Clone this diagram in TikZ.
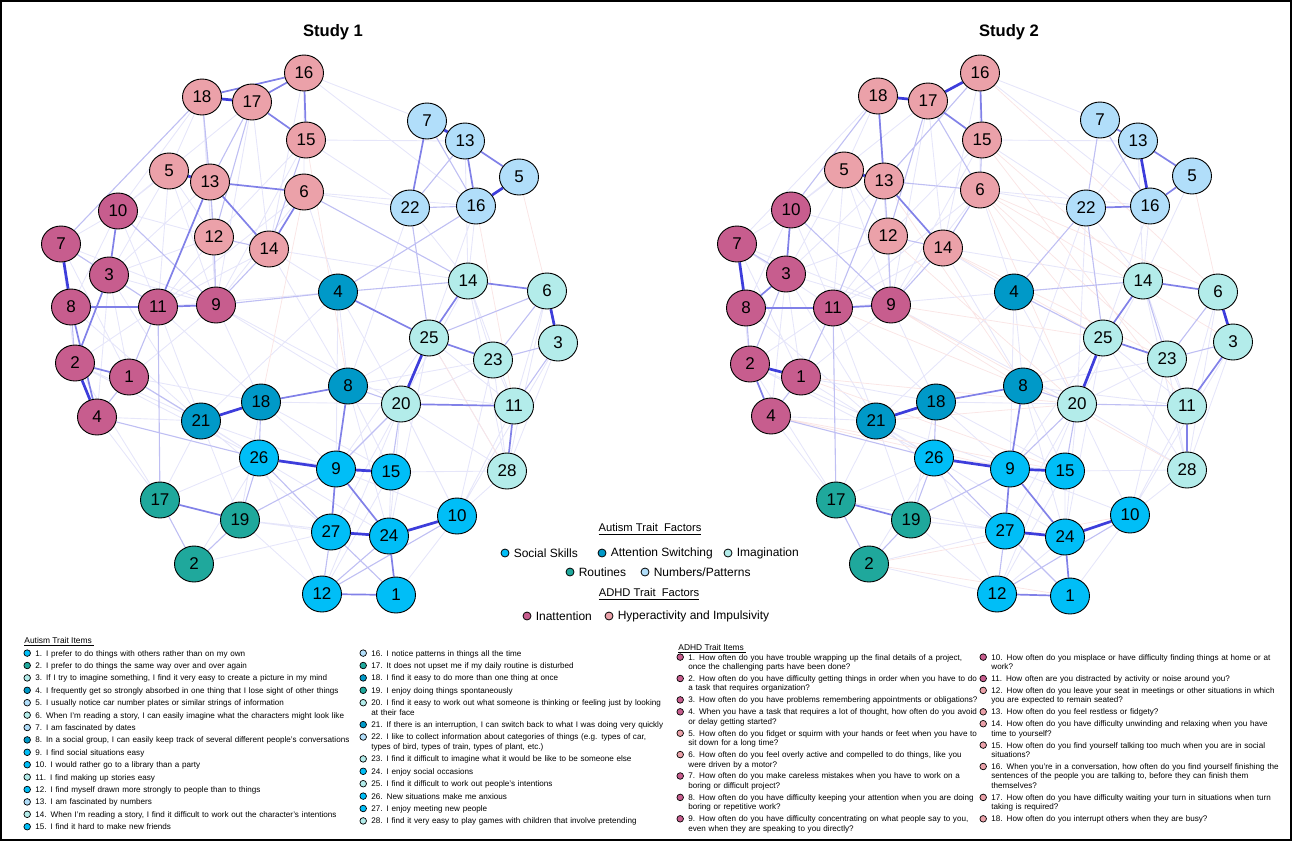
\documentclass[tikz,border=0pt]{standalone}
\usepackage{fontspec}
\setmainfont{Liberation Sans}
\usepackage{tikz}
\usetikzlibrary{shapes.geometric,positioning}
\pgfdeclarelayer{background}
\pgfsetlayers{background,main}
% factor colours
\definecolor{inattcol}{HTML}{C75D8E}
\definecolor{hypercol}{HTML}{EBA1A9}
\definecolor{socialcol}{HTML}{00BEF7}
\definecolor{attswcol}{HTML}{0099C8}
\definecolor{imagcol}{HTML}{B3ECEA}
\definecolor{routinecol}{HTML}{1FA89C}
\definecolor{numpatcol}{HTML}{B1DEFA}
\definecolor{poscol}{HTML}{3D3DDB}
\definecolor{negcol}{HTML}{E05A5A}
\newcommand{\itemsfont}{\fontsize{4.05}{4.75}\selectfont}
\newcommand{\keysfont}{\fontsize{6}{7}\selectfont}

\begin{document}
\begin{tikzpicture}[x=0.5pt, y=-0.5pt,
  trait/.style={ellipse, draw, line width=0.45pt, inner sep=0pt, minimum width=19.5pt, minimum height=18pt, font=\fontsize{8.5}{9}\selectfont},
  inatt/.style={trait, fill=inattcol},
  hyper/.style={trait, fill=hypercol},
  social/.style={trait, fill=socialcol},
  attsw/.style={trait, fill=attswcol},
  imag/.style={trait, fill=imagcol},
  routine/.style={trait, fill=routinecol},
  numpat/.style={trait, fill=numpatcol},
  edgestrong/.style={draw=poscol, line width=1.35pt},
  edgemid/.style={draw=poscol!65, line width=0.85pt},
  edgeweak/.style={draw=poscol!33, line width=0.55pt},
  edgefaint/.style={draw=poscol!13, line width=0.45pt},
  edgeneg/.style={draw=negcol!15, line width=0.4pt},
  keydot/.style={circle, draw, line width=0.4pt, inner sep=0pt, minimum size=4pt},
  keytext/.style={anchor=west, inner sep=0pt, font=\keysfont},
  bulletdot/.style={circle, draw, line width=0.35pt, inner sep=0pt, minimum size=3.3pt},
  traititem/.style={anchor=base west, inner sep=0pt, text width=165pt, align=left, font=\itemsfont,
    label={[bulletdot, fill=#1, anchor=center, xshift=-3.9pt, yshift=1.45pt]base west:}},
]
\useasboundingbox (0,0) rectangle (1292,841);
\draw[line width=0.6pt] (1,1) rectangle (1291,840);

% Titles
\node[font=\bfseries\fontsize{8.3}{9}\selectfont] (title1) at (333,32) {Study 1};
\node[font=\bfseries\fontsize{8.3}{9}\selectfont] (title2) at (1009,32) {Study 2};

% Study 1: hyperactivity and impulsivity
\node[hyper] (s1_d18) at (202,97) {18};
\node[hyper] (s1_d17) at (252,102) {17};
\node[hyper] (s1_d16) at (304,73) {16};
\node[hyper] (s1_d15) at (306,140) {15};
\node[hyper] (s1_d5) at (169,171) {5};
\node[hyper] (s1_d13) at (210,182) {13};
\node[hyper] (s1_d6) at (304,192) {6};
\node[hyper] (s1_d12) at (214,237) {12};
\node[hyper] (s1_d14) at (269,249) {14};
% Study 1: inattention
\node[inatt] (s1_d10) at (118,211) {10};
\node[inatt] (s1_d7) at (61,244) {7};
\node[inatt] (s1_d3) at (109,275) {3};
\node[inatt] (s1_d8) at (71,307) {8};
\node[inatt] (s1_d11) at (158,307) {11};
\node[inatt] (s1_d9) at (216,305) {9};
\node[inatt] (s1_d2) at (75,363) {2};
\node[inatt] (s1_d1) at (129,377) {1};
\node[inatt] (s1_d4) at (97,417) {4};
% Study 1: attention switching
\node[attsw] (s1_a4) at (338,292) {4};
\node[attsw] (s1_a8) at (348,386) {8};
\node[attsw] (s1_a18) at (261,402) {18};
\node[attsw] (s1_a21) at (201,421) {21};
% Study 1: numbers/patterns
\node[numpat] (s1_a7) at (427,121) {7};
\node[numpat] (s1_a13) at (465,141) {13};
\node[numpat] (s1_a5) at (519,177) {5};
\node[numpat] (s1_a22) at (410,208) {22};
\node[numpat] (s1_a16) at (476,206) {16};
% Study 1: imagination
\node[imag] (s1_a14) at (468,281) {14};
\node[imag] (s1_a6) at (547,291) {6};
\node[imag] (s1_a3) at (558,343) {3};
\node[imag] (s1_a25) at (429,338) {25};
\node[imag] (s1_a23) at (493,360) {23};
\node[imag] (s1_a20) at (401,404) {20};
\node[imag] (s1_a11) at (514,406) {11};
\node[imag] (s1_a28) at (507,471) {28};
% Study 1: social skills
\node[social] (s1_a26) at (259,458) {26};
\node[social] (s1_a9) at (336,469) {9};
\node[social] (s1_a15) at (391,472) {15};
\node[social] (s1_a10) at (457,516) {10};
\node[social] (s1_a27) at (331,532) {27};
\node[social] (s1_a24) at (389,536) {24};
\node[social] (s1_a12) at (322,594) {12};
\node[social] (s1_a1) at (396,595) {1};
% Study 1: routines
\node[routine] (s1_a17) at (160,500) {17};
\node[routine] (s1_a19) at (240,520) {19};
\node[routine] (s1_a2) at (194,564) {2};

% Study 2: hyperactivity and impulsivity
\node[hyper] (s2_d18) at (878,96) {18};
\node[hyper] (s2_d17) at (928,101) {17};
\node[hyper] (s2_d16) at (980,73) {16};
\node[hyper] (s2_d15) at (982,140) {15};
\node[hyper] (s2_d5) at (844,170) {5};
\node[hyper] (s2_d13) at (884,181) {13};
\node[hyper] (s2_d6) at (980,190) {6};
\node[hyper] (s2_d12) at (888,236) {12};
\node[hyper] (s2_d14) at (943,248) {14};
% Study 2: inattention
\node[inatt] (s2_d10) at (791,210) {10};
\node[inatt] (s2_d7) at (737,244) {7};
\node[inatt] (s2_d3) at (786,274) {3};
\node[inatt] (s2_d8) at (746,308) {8};
\node[inatt] (s2_d11) at (833,308) {11};
\node[inatt] (s2_d9) at (891,305) {9};
\node[inatt] (s2_d2) at (750,364) {2};
\node[inatt] (s2_d1) at (801,377) {1};
\node[inatt] (s2_d4) at (771,416) {4};
% Study 2: attention switching
\node[attsw] (s2_a4) at (1014,292) {4};
\node[attsw] (s2_a8) at (1023,386) {8};
\node[attsw] (s2_a18) at (936,402) {18};
\node[attsw] (s2_a21) at (876,421) {21};
% Study 2: numbers/patterns
\node[numpat] (s2_a7) at (1100,120) {7};
\node[numpat] (s2_a13) at (1138,141) {13};
\node[numpat] (s2_a5) at (1192,176) {5};
\node[numpat] (s2_a22) at (1086,208) {22};
\node[numpat] (s2_a16) at (1150,206) {16};
% Study 2: imagination
\node[imag] (s2_a14) at (1143,281) {14};
\node[imag] (s2_a6) at (1218,292) {6};
\node[imag] (s2_a3) at (1233,342) {3};
\node[imag] (s2_a25) at (1103,338) {25};
\node[imag] (s2_a23) at (1167,359) {23};
\node[imag] (s2_a20) at (1077,404) {20};
\node[imag] (s2_a11) at (1187,406) {11};
\node[imag] (s2_a28) at (1187,470) {28};
% Study 2: social skills
\node[social] (s2_a26) at (934,458) {26};
\node[social] (s2_a9) at (1010,469) {9};
\node[social] (s2_a15) at (1065,471) {15};
\node[social] (s2_a10) at (1130,515) {10};
\node[social] (s2_a27) at (1005,531) {27};
\node[social] (s2_a24) at (1065,537) {24};
\node[social] (s2_a12) at (997,594) {12};
\node[social] (s2_a1) at (1070,596) {1};
% Study 2: routines
\node[routine] (s2_a17) at (836,500) {17};
\node[routine] (s2_a19) at (911,520) {19};
\node[routine] (s2_a2) at (869,564) {2};

% Draw the edges behind the nodes
\begin{pgfonlayer}{background}
% Study 1
\draw[edgefaint] (s1_d18) -- (s1_d10) (s1_d16) -- (s1_d6) (s1_d5) -- (s1_d10) (s1_d5) -- (s1_d3)
  (s1_d6) -- (s1_d9) (s1_d10) -- (s1_d11) (s1_d7) -- (s1_d11) (s1_d7) -- (s1_d9) (s1_d3) -- (s1_d9)
  (s1_d3) -- (s1_d1) (s1_d11) -- (s1_d2) (s1_d9) -- (s1_d1) (s1_d6) -- (s1_a22) (s1_d6) -- (s1_a4)
  (s1_a4) -- (s1_a21) (s1_a4) -- (s1_d11) (s1_d14) -- (s1_a4) (s1_a18) -- (s1_a20) (s1_a8) -- (s1_a25)
  (s1_a8) -- (s1_a23) (s1_a20) -- (s1_a23) (s1_a25) -- (s1_a11) (s1_a14) -- (s1_a23) (s1_a26) -- (s1_a15)
  (s1_a15) -- (s1_a24) (s1_a15) -- (s1_a28) (s1_a9) -- (s1_a10) (s1_a19) -- (s1_a27) (s1_a1) -- (s1_a10)
  (s1_a21) -- (s1_a26) (s1_a21) -- (s1_a19) (s1_a17) -- (s1_a26) (s1_d2) -- (s1_a17) (s1_a20) -- (s1_a10)
  (s1_a28) -- (s1_a10) (s1_a25) -- (s1_a9) (s1_a14) -- (s1_a28) (s1_d5) -- (s1_d12) (s1_d12) -- (s1_d11)
  (s1_d15) -- (s1_a22) (s1_d16) -- (s1_a16) (s1_a16) -- (s1_a14) (s1_d14) -- (s1_a8) (s1_d9) -- (s1_a18)
  (s1_d1) -- (s1_a18) (s1_d4) -- (s1_a21) (s1_a3) -- (s1_a28) (s1_a6) -- (s1_a11) (s1_a14) -- (s1_a20)
  (s1_a23) -- (s1_a28) (s1_a20) -- (s1_a27) (s1_d10) -- (s1_d7) (s1_a12) -- (s1_a15) (s1_a19) -- (s1_a12)
  (s1_d2) -- (s1_a21) (s1_a23) -- (s1_a11) (s1_a4) -- (s1_a8) (s1_d18) -- (s1_d5) (s1_d17) -- (s1_d10)
  (s1_d18) -- (s1_d9) (s1_d18) -- (s1_d12) (s1_d16) -- (s1_d14) (s1_d15) -- (s1_d12) (s1_d15) -- (s1_d9)
  (s1_d17) -- (s1_d14) (s1_d17) -- (s1_d9) (s1_d5) -- (s1_d11) (s1_d5) -- (s1_d9) (s1_d13) -- (s1_d9)
  (s1_d13) -- (s1_d3) (s1_d10) -- (s1_d12) (s1_d10) -- (s1_d8) (s1_d7) -- (s1_d2) (s1_d7) -- (s1_d1)
  (s1_d3) -- (s1_d4) (s1_d12) -- (s1_d3) (s1_d14) -- (s1_d11) (s1_d6) -- (s1_d11) (s1_d6) -- (s1_a16)
  (s1_d16) -- (s1_a7) (s1_d15) -- (s1_a13) (s1_d14) -- (s1_a14) (s1_d9) -- (s1_a8) (s1_d9) -- (s1_a20)
  (s1_d11) -- (s1_a18) (s1_d11) -- (s1_a21) (s1_d3) -- (s1_a21) (s1_d8) -- (s1_a21) (s1_d2) -- (s1_a26)
  (s1_d1) -- (s1_a26) (s1_d4) -- (s1_a17) (s1_a21) -- (s1_a9) (s1_a21) -- (s1_a27) (s1_a18) -- (s1_a9)
  (s1_a18) -- (s1_a19) (s1_a18) -- (s1_a15) (s1_a8) -- (s1_a15) (s1_a8) -- (s1_a24) (s1_a8) -- (s1_a11)
  (s1_a20) -- (s1_a24) (s1_a20) -- (s1_a12) (s1_a20) -- (s1_a28) (s1_a25) -- (s1_a28) (s1_a25) -- (s1_a24)
  (s1_a23) -- (s1_a10) (s1_a11) -- (s1_a10) (s1_a3) -- (s1_a10) (s1_a6) -- (s1_a28) (s1_a14) -- (s1_a11)
  (s1_a22) -- (s1_a14) (s1_a22) -- (s1_a8) (s1_a16) -- (s1_a25) (s1_a13) -- (s1_a14) (s1_a4) -- (s1_a20)
  (s1_a4) -- (s1_a9) (s1_a26) -- (s1_a24) (s1_a26) -- (s1_a12) (s1_a19) -- (s1_a24) (s1_a17) -- (s1_a21)
  (s1_a2) -- (s1_a27) (s1_a2) -- (s1_a26);
\draw[edgeneg] (s1_a5) -- (s1_a6) (s1_a16) -- (s1_a11) (s1_d6) -- (s1_a18) (s1_d15) -- (s1_a8) (s1_a25) -- (s1_a28);
\draw[edgeweak] (s1_d17) -- (s1_d12) (s1_d15) -- (s1_d14) (s1_d12) -- (s1_d14) (s1_d10) -- (s1_d9)
  (s1_d14) -- (s1_d9) (s1_d7) -- (s1_d3) (s1_d8) -- (s1_d2) (s1_d1) -- (s1_d4) (s1_d4) -- (s1_a26)
  (s1_a8) -- (s1_a20) (s1_a27) -- (s1_a12) (s1_a26) -- (s1_a27) (s1_a20) -- (s1_a9) (s1_a22) -- (s1_a25)
  (s1_a7) -- (s1_a16) (s1_a13) -- (s1_a22) (s1_a3) -- (s1_a11) (s1_a19) -- (s1_a9) (s1_a18) -- (s1_a26)
  (s1_a17) -- (s1_a2) (s1_a19) -- (s1_a2) (s1_a26) -- (s1_a19) (s1_a4) -- (s1_a14) (s1_a4) -- (s1_a16)
  (s1_a22) -- (s1_a16) (s1_a10) -- (s1_a12) (s1_d18) -- (s1_d7) (s1_d11) -- (s1_a17) (s1_d12) -- (s1_d9)
  (s1_d13) -- (s1_d12) (s1_d1) -- (s1_a21) (s1_a15) -- (s1_a20) (s1_a24) -- (s1_a12) (s1_a23) -- (s1_a3)
  (s1_a6) -- (s1_a23) (s1_a6) -- (s1_a25) (s1_d6) -- (s1_a14) (s1_d17) -- (s1_d13) (s1_d18) -- (s1_d13)
  (s1_d9) -- (s1_a4) (s1_d11) -- (s1_d1) (s1_d3) -- (s1_d11) (s1_a27) -- (s1_a1);
\draw[edgemid] (s1_d17) -- (s1_d16) (s1_d16) -- (s1_d15) (s1_d17) -- (s1_d15) (s1_d18) -- (s1_d16)
  (s1_d13) -- (s1_d6) (s1_d13) -- (s1_d14) (s1_d6) -- (s1_d14) (s1_d10) -- (s1_d3) (s1_d8) -- (s1_d11)
  (s1_d11) -- (s1_d9) (s1_d2) -- (s1_d1) (s1_d3) -- (s1_d2) (s1_d8) -- (s1_d4) (s1_a18) -- (s1_a8)
  (s1_a8) -- (s1_a9) (s1_a9) -- (s1_a24) (s1_a24) -- (s1_a1) (s1_a12) -- (s1_a1) (s1_a17) -- (s1_a19)
  (s1_a9) -- (s1_a27) (s1_a13) -- (s1_a5) (s1_a13) -- (s1_a16) (s1_a7) -- (s1_a22) (s1_a14) -- (s1_a6)
  (s1_a14) -- (s1_a25) (s1_a25) -- (s1_a23) (s1_a20) -- (s1_a11) (s1_a11) -- (s1_a28) (s1_a4) -- (s1_a25)
  (s1_d13) -- (s1_d11);
\draw[edgestrong] (s1_d18) -- (s1_d17) (s1_d5) -- (s1_d13) (s1_d7) -- (s1_d8) (s1_d2) -- (s1_d4)
  (s1_a21) -- (s1_a18) (s1_a26) -- (s1_a9) (s1_a9) -- (s1_a15) (s1_a27) -- (s1_a24) (s1_a24) -- (s1_a10)
  (s1_a7) -- (s1_a13) (s1_a5) -- (s1_a16) (s1_a6) -- (s1_a3) (s1_a25) -- (s1_a20);
% Study 2
\draw[edgefaint] (s2_d16) -- (s2_d6) (s2_d5) -- (s2_d10) (s2_d5) -- (s2_d3) (s2_d6) -- (s2_d9)
  (s2_d10) -- (s2_d11) (s2_d7) -- (s2_d11) (s2_d7) -- (s2_d9) (s2_d3) -- (s2_d9) (s2_d3) -- (s2_d1)
  (s2_d11) -- (s2_d2) (s2_d9) -- (s2_d1) (s2_d6) -- (s2_a22) (s2_d6) -- (s2_a4) (s2_a4) -- (s2_a21)
  (s2_a4) -- (s2_d11) (s2_d14) -- (s2_a4) (s2_a18) -- (s2_a20) (s2_a8) -- (s2_a25) (s2_a8) -- (s2_a23)
  (s2_a20) -- (s2_a23) (s2_a25) -- (s2_a11) (s2_a26) -- (s2_a15) (s2_a15) -- (s2_a24) (s2_a15) -- (s2_a28)
  (s2_a9) -- (s2_a10) (s2_a19) -- (s2_a27) (s2_a1) -- (s2_a10) (s2_a21) -- (s2_a26) (s2_a21) -- (s2_a19)
  (s2_a17) -- (s2_a26) (s2_d2) -- (s2_a17) (s2_a20) -- (s2_a10) (s2_a28) -- (s2_a10) (s2_a25) -- (s2_a9)
  (s2_a14) -- (s2_a28) (s2_d5) -- (s2_d12) (s2_d12) -- (s2_d11) (s2_d15) -- (s2_a22) (s2_d16) -- (s2_a16)
  (s2_a16) -- (s2_a14) (s2_d14) -- (s2_a8) (s2_d9) -- (s2_a18) (s2_d1) -- (s2_a18) (s2_d4) -- (s2_a21)
  (s2_a3) -- (s2_a28) (s2_a6) -- (s2_a11) (s2_a14) -- (s2_a20) (s2_a23) -- (s2_a28) (s2_a20) -- (s2_a27)
  (s2_d10) -- (s2_d7) (s2_a12) -- (s2_a15) (s2_a19) -- (s2_a12) (s2_d2) -- (s2_a21) (s2_a23) -- (s2_a11)
  (s2_a4) -- (s2_a8) (s2_d18) -- (s2_d5) (s2_d17) -- (s2_d10) (s2_d18) -- (s2_d7) (s2_a13) -- (s2_a22)
  (s2_a16) -- (s2_a25) (s2_a5) -- (s2_a14) (s2_d16) -- (s2_a7) (s2_a22) -- (s2_a20) (s2_d13) -- (s2_d9)
  (s2_a2) -- (s2_a12) (s2_a17) -- (s2_a27) (s2_d4) -- (s2_a17) (s2_a24) -- (s2_a12)
  (s2_d18) -- (s2_d9) (s2_d16) -- (s2_d14) (s2_d15) -- (s2_d12) (s2_d15) -- (s2_d9) (s2_d17) -- (s2_d14)
  (s2_d17) -- (s2_d9) (s2_d5) -- (s2_d11) (s2_d5) -- (s2_d9) (s2_d13) -- (s2_d3) (s2_d10) -- (s2_d12)
  (s2_d10) -- (s2_d8) (s2_d7) -- (s2_d2) (s2_d7) -- (s2_d1) (s2_d3) -- (s2_d4) (s2_d12) -- (s2_d3)
  (s2_d14) -- (s2_d11) (s2_d6) -- (s2_d11) (s2_d6) -- (s2_a16) (s2_d15) -- (s2_a13) (s2_d14) -- (s2_a14)
  (s2_d9) -- (s2_a20) (s2_d11) -- (s2_a18) (s2_d11) -- (s2_a21) (s2_d3) -- (s2_a21) (s2_d8) -- (s2_a21)
  (s2_d2) -- (s2_a26) (s2_d1) -- (s2_a26) (s2_a21) -- (s2_a9) (s2_a21) -- (s2_a27) (s2_a18) -- (s2_a9)
  (s2_a18) -- (s2_a19) (s2_a18) -- (s2_a15) (s2_a8) -- (s2_a15) (s2_a8) -- (s2_a24) (s2_a8) -- (s2_a11)
  (s2_a20) -- (s2_a24) (s2_a20) -- (s2_a12) (s2_a20) -- (s2_a28) (s2_a25) -- (s2_a28) (s2_a25) -- (s2_a24)
  (s2_a23) -- (s2_a10) (s2_a11) -- (s2_a10) (s2_a3) -- (s2_a10) (s2_a6) -- (s2_a28) (s2_a14) -- (s2_a11)
  (s2_a22) -- (s2_a14) (s2_a22) -- (s2_a8) (s2_a13) -- (s2_a14) (s2_a4) -- (s2_a20) (s2_a4) -- (s2_a9)
  (s2_a26) -- (s2_a24) (s2_a26) -- (s2_a12) (s2_a19) -- (s2_a24) (s2_a17) -- (s2_a21) (s2_a2) -- (s2_a27)
  (s2_a2) -- (s2_a26);
\draw[edgeneg] (s2_d6) -- (s2_a25) (s2_d6) -- (s2_a23) (s2_d6) -- (s2_a20) (s2_d15) -- (s2_a14)
  (s2_d16) -- (s2_a6) (s2_d13) -- (s2_a8) (s2_d14) -- (s2_a23) (s2_a2) -- (s2_a10) (s2_d4) -- (s2_a9)
  (s2_d1) -- (s2_a20) (s2_d9) -- (s2_a28) (s2_a5) -- (s2_a6) (s2_d14) -- (s2_a25) (s2_d12) -- (s2_a20)
  (s2_d9) -- (s2_a25) (s2_d15) -- (s2_a11) (s2_d6) -- (s2_a3) (s2_d4) -- (s2_a15) (s2_d1) -- (s2_a15)
  (s2_a21) -- (s2_a20) (s2_d11) -- (s2_a8) (s2_d9) -- (s2_a8) (s2_d6) -- (s2_a6) (s2_a2) -- (s2_a1);
\draw[edgeweak] (s2_d13) -- (s2_d6) (s2_d6) -- (s2_d14) (s2_d17) -- (s2_d12) (s2_d13) -- (s2_d11)
  (s2_d12) -- (s2_d14) (s2_d10) -- (s2_d9) (s2_d7) -- (s2_d3) (s2_d8) -- (s2_d2) (s2_d1) -- (s2_d4)
  (s2_d14) -- (s2_d9) (s2_d18) -- (s2_d10) (s2_a7) -- (s2_a22) (s2_a7) -- (s2_a16) (s2_a22) -- (s2_a25)
  (s2_a4) -- (s2_a25) (s2_a27) -- (s2_a12) (s2_a26) -- (s2_a27) (s2_a20) -- (s2_a9) (s2_a8) -- (s2_a20)
  (s2_a20) -- (s2_a11) (s2_a19) -- (s2_a2) (s2_a17) -- (s2_a2) (s2_a19) -- (s2_a9) (s2_a18) -- (s2_a26)
  (s2_a4) -- (s2_a14) (s2_d4) -- (s2_a26) (s2_a15) -- (s2_a20) (s2_a10) -- (s2_a12) (s2_a23) -- (s2_a3)
  (s2_a6) -- (s2_a23) (s2_d15) -- (s2_d6) (s2_d16) -- (s2_d13) (s2_a14) -- (s2_a23) (s2_d3) -- (s2_d2)
  (s2_a26) -- (s2_a19) (s2_d9) -- (s2_d12) (s2_d17) -- (s2_d6) (s2_d11) -- (s2_d1) (s2_d11) -- (s2_a17)
  (s2_a27) -- (s2_a1) (s2_d18) -- (s2_d12) (s2_a22) -- (s2_a4);
\draw[edgemid] (s2_d16) -- (s2_d15) (s2_d17) -- (s2_d15) (s2_d13) -- (s2_d14) (s2_d10) -- (s2_d3)
  (s2_d2) -- (s2_d4) (s2_d8) -- (s2_d11) (s2_d11) -- (s2_d9) (s2_d3) -- (s2_d8) (s2_a18) -- (s2_a8)
  (s2_a8) -- (s2_a9) (s2_a9) -- (s2_a24) (s2_a12) -- (s2_a1) (s2_a17) -- (s2_a19) (s2_a7) -- (s2_a13)
  (s2_a13) -- (s2_a5) (s2_a22) -- (s2_a16) (s2_a14) -- (s2_a6) (s2_a14) -- (s2_a25) (s2_a25) -- (s2_a23)
  (s2_a11) -- (s2_a28) (s2_a9) -- (s2_a27) (s2_a24) -- (s2_a1) (s2_a5) -- (s2_a16) (s2_d18) -- (s2_d13)
  (s2_a3) -- (s2_a11);
\draw[edgestrong] (s2_d18) -- (s2_d17) (s2_d17) -- (s2_d16) (s2_d5) -- (s2_d13) (s2_d7) -- (s2_d8)
  (s2_d2) -- (s2_d1) (s2_a21) -- (s2_a18) (s2_a26) -- (s2_a9) (s2_a9) -- (s2_a15) (s2_a27) -- (s2_a24)
  (s2_a24) -- (s2_a10) (s2_a13) -- (s2_a16) (s2_a6) -- (s2_a3) (s2_a25) -- (s2_a20);
\end{pgfonlayer}

% Factor legend
\node[font=\fontsize{5.6}{6}\selectfont] (aq_factors) at (650,529) {\underline{Autism Trait\ \ Factors}};
\node[keydot, fill=socialcol] (key_social) at (505,553) {};
\node[keytext, right=2pt of key_social] (key_social_txt) {Social Skills};
\node[keydot, fill=attswcol] (key_attsw) at (602,553) {};
\node[keytext, right=2pt of key_attsw] (key_attsw_txt) {Attention Switching};
\node[keydot, fill=imagcol] (key_imag) at (728,553) {};
\node[keytext, right=2pt of key_imag] (key_imag_txt) {Imagination};
\node[keydot, fill=routinecol] (key_routine) at (570,572) {};
\node[keytext, right=2pt of key_routine] (key_routine_txt) {Routines};
\node[keydot, fill=numpatcol] (key_numpat) at (645,572) {};
\node[keytext, right=2pt of key_numpat] (key_numpat_txt) {Numbers/Patterns};
\node[font=\fontsize{5.6}{6}\selectfont] (adhd_factors) at (649,594) {\underline{ADHD Trait\ \ Factors}};
\node[keydot, fill=inattcol] (key_inatt) at (527,616) {};
\node[keytext, right=2pt of key_inatt] (key_inatt_txt) {Inattention};
\node[keydot, fill=hypercol] (key_hyper) at (609,616) {};
\node[keytext, right=2pt of key_hyper] (key_hyper_txt) {Hyperactivity and Impulsivity};

% Autism trait items
\node[anchor=base west, inner sep=0pt, font=\fontsize{4.2}{5}\selectfont] (aq_items) at (24,643) {\underline{Autism Trait Items\ }};
\node[traititem=socialcol] (aq1) at (35,656) {1. I prefer to do things with others rather than on my own};
\node[traititem=routinecol] (aq2) at (35,668.4) {2. I prefer to do things the same way over and over again};
\node[traititem=imagcol] (aq3) at (35,680.8) {3. If I try to imagine something, I find it very easy to create a picture in my mind};
\node[traititem=attswcol] (aq4) at (35,693.2) {4. I frequently get so strongly absorbed in one thing that I lose sight of other things};
\node[traititem=numpatcol] (aq5) at (35,705.6) {5. I usually notice car number plates or similar strings of information};
\node[traititem=imagcol] (aq6) at (35,718) {6. When I'm reading a story, I can easily imagine what the characters might look like};
\node[traititem=numpatcol] (aq7) at (35,730.4) {7. I am fascinated by dates};
\node[traititem=attswcol] (aq8) at (35,742.8) {8. In a social group, I can easily keep track of several different people's conversations};
\node[traititem=socialcol] (aq9) at (35,755.2) {9. I find social situations easy};
\node[traititem=socialcol] (aq10) at (35,767.6) {10. I would rather go to a library than a party};
\node[traititem=imagcol] (aq11) at (35,780) {11. I find making up stories easy};
\node[traititem=socialcol] (aq12) at (35,792.4) {12. I find myself drawn more strongly to people than to things};
\node[traititem=numpatcol] (aq13) at (35,804.8) {13. I am fascinated by numbers};
\node[traititem=imagcol] (aq14) at (35,817.2) {14. When I'm reading a story, I find it difficult to work out the character's intentions};
\node[traititem=socialcol] (aq15) at (35,829.6) {15. I find it hard to make new friends};
\node[traititem=numpatcol] (aq16) at (371,656) {16. I notice patterns in things all the time};
\node[traititem=routinecol] (aq17) at (371,668.4) {17. It does not upset me if my daily routine is disturbed};
\node[traititem=attswcol] (aq18) at (371,680.8) {18. I find it easy to do more than one thing at once};
\node[traititem=routinecol] (aq19) at (371,693.2) {19. I enjoy doing things spontaneously};
\node[traititem=imagcol] (aq20) at (371,705.6) {20. I find it easy to work out what someone is thinking or feeling just by looking\\at their face};
\node[traititem=attswcol] (aq21) at (371,727.5) {21. If there is an interruption, I can switch back to what I was doing very quickly};
\node[traititem=numpatcol] (aq22) at (371,739.9) {22. I like to collect information about categories of things (e.g. types of car,\\types of bird, types of train, types of plant, etc.)};
\node[traititem=imagcol] (aq23) at (371,761.8) {23. I find it difficult to imagine what it would be like to be someone else};
\node[traititem=socialcol] (aq24) at (371,774.2) {24. I enjoy social occasions};
\node[traititem=imagcol] (aq25) at (371,786.6) {25. I find it difficult to work out people's intentions};
\node[traititem=socialcol] (aq26) at (371,799) {26. New situations make me anxious};
\node[traititem=socialcol] (aq27) at (371,811.4) {27. I enjoy meeting new people};
\node[traititem=imagcol] (aq28) at (371,823.8) {28. I find it very easy to play games with children that involve pretending};

% ADHD trait items
\node[anchor=base west, inner sep=0pt, font=\fontsize{4.2}{5}\selectfont] (adhd_items) at (678,650) {\underline{ADHD Trait Items\ }};
\node[traititem=inattcol] (adhd1) at (688,660) {1. How often do you have trouble wrapping up the final details of a project,\\once the challenging parts have been done?};
\node[traititem=inattcol] (adhd2) at (688,681.4) {2. How often do you have difficulty getting things in order when you have to do\\a task that requires organization?};
\node[traititem=inattcol] (adhd3) at (688,702.8) {3. How often do you have problems remembering appointments or obligations?};
\node[traititem=inattcol] (adhd4) at (688,714.7) {4. When you have a task that requires a lot of thought, how often do you avoid\\or delay getting started?};
\node[traititem=hypercol] (adhd5) at (688,736.1) {5. How often do you fidget or squirm with your hands or feet when you have to\\sit down for a long time?};
\node[traititem=hypercol] (adhd6) at (688,757.5) {6. How often do you feel overly active and compelled to do things, like you\\were driven by a motor?};
\node[traititem=inattcol] (adhd7) at (688,778.9) {7. How often do you make careless mistakes when you have to work on a\\boring or difficult project?};
\node[traititem=inattcol] (adhd8) at (688,800.3) {8. How often do you have difficulty keeping your attention when you are doing\\boring or repetitive work?};
\node[traititem=inattcol] (adhd9) at (688,821.7) {9. How often do you have difficulty concentrating on what people say to you,\\even when they are speaking to you directly?};
\node[traititem=inattcol] (adhd10) at (991,660) {10. How often do you misplace or have difficulty finding things at home or at\\work?};
\node[traititem=inattcol] (adhd11) at (991,681.4) {11. How often are you distracted by activity or noise around you?};
\node[traititem=hypercol] (adhd12) at (991,693.3) {12. How often do you leave your seat in meetings or other situations in which\\you are expected to remain seated?};
\node[traititem=hypercol] (adhd13) at (991,714.7) {13. How often do you feel restless or fidgety?};
\node[traititem=hypercol] (adhd14) at (991,726.6) {14. How often do you have difficulty unwinding and relaxing when you have\\time to yourself?};
\node[traititem=hypercol] (adhd15) at (991,748) {15. How often do you find yourself talking too much when you are in social\\situations?};
\node[traititem=hypercol] (adhd16) at (991,769.4) {16. When you're in a conversation, how often do you find yourself finishing the\\sentences of the people you are talking to, before they can finish them\\themselves?};
\node[traititem=hypercol] (adhd17) at (991,800.3) {17. How often do you have difficulty waiting your turn in situations when turn\\taking is required?};
\node[traititem=hypercol] (adhd18) at (991,821.7) {18. How often do you interrupt others when they are busy?};
\end{tikzpicture}
\end{document}
